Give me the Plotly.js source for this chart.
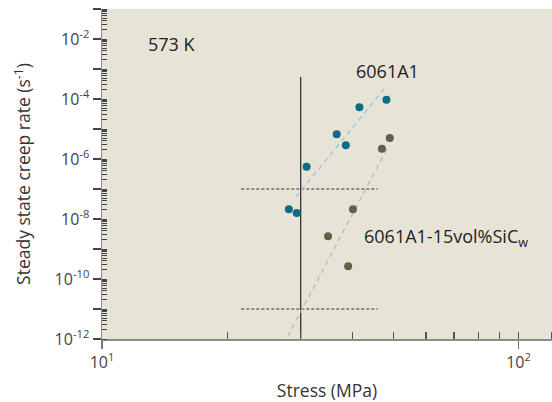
<!DOCTYPE html>
<html>
<head>
<meta charset="utf-8">
<script src="https://cdn.plot.ly/plotly-3.0.1.min.js"></script>
<style>html,body{margin:0;padding:0;background:#fff;}#chart{width:552px;height:402px;}</style>
</head>
<body>
<div id="chart"></div>
<script>
// 6061Al (unreinforced) data
const alStress = [28.1, 29.35, 31.0, 36.6, 38.5, 41.5, 48.2];
const alRate   = [2.1e-8, 1.58e-8, 5.5e-7, 6.66e-6, 2.86e-6, 5.3e-5, 9.5e-5];
// 6061Al-15vol%SiCw composite data
const compStress = [34.9, 39.0, 40.05, 47.0, 49.1];
const compRate   = [2.65e-9, 2.65e-10, 2.1e-8, 2.2e-6, 5.0e-6];
// dashed fit lines (end points)
const alFitStress = [29.2, 47.5];
const alFitRate   = [5.4e-8, 2.1e-4];
const compFitStress = [27.9, 48.5];
const compFitRate   = [1.21e-12, 2.38e-6];
// threshold guide lines
const vLineStress = [30, 30];
const vLineRate   = [5.4e-4, 1e-12];
const hGuideStress = [21.6, 45.9];
const hGuideUpper  = [1e-7, 1e-7];
const hGuideLower  = [1e-11, 1e-11];
// axis ticks
const xTickVals = [10, 100];
const xTickText = ['10<sup>1</sup>', '10<sup>2</sup>'];
const yExponents = [-12,-11,-10,-9,-8,-7,-6,-5,-4,-3,-2,-1];

const yTickVals = yExponents.map(e => Math.pow(10, e));
const yTickText = yExponents.map(e => (e % 2 === 0) ? '10<sup>' + e + '</sup>' : ' ');
const yMinor = [];
yExponents.forEach(e => {
  yMinor.push(Math.pow(10, e));
  if (e < -1) for (let k = 2; k <= 9; k++) yMinor.push(k * Math.pow(10, e));
});
const xMinor = [20,30,40,50,60,70,80,90,100,120];

const FONT = 'Open Sans, Noto Sans, sans-serif';

const traces = [
  {x: vLineStress, y: vLineRate, mode: 'lines', line: {color: '#222', width: 1.2}, hoverinfo: 'skip'},
  {x: hGuideStress, y: hGuideUpper, mode: 'lines', line: {color: '#333', width: 1, dash: '3px,2px'}, hoverinfo: 'skip'},
  {x: hGuideStress, y: hGuideLower, mode: 'lines', line: {color: '#333', width: 1, dash: '3px,2px'}, hoverinfo: 'skip'},
  {x: alFitStress, y: alFitRate, mode: 'lines', line: {color: '#9ccbdf', width: 1.6, dash: '5px,4px'}, hoverinfo: 'skip'},
  {x: compFitStress, y: compFitRate, mode: 'lines', line: {color: '#bdbcb0', width: 1.4, dash: '5px,4px'}, hoverinfo: 'skip'},
  {x: alStress, y: alRate, mode: 'markers', marker: {color: '#0b6c86', size: 8}, name: '6061Al'},
  {x: compStress, y: compRate, mode: 'markers', marker: {color: '#5f6144', size: 8}, name: '6061Al-15vol%SiCw'}
];

const layout = {
  width: 552, height: 402,
  margin: {l: 102, r: 0, t: 9, b: 63},
  paper_bgcolor: '#ffffff',
  plot_bgcolor: '#e7e4d7',
  showlegend: false,
  font: {family: FONT, color: '#333'},
  xaxis: {
    type: 'log', range: [1, 2.0805],
    showgrid: false, zeroline: false,
    showline: true, linecolor: '#8c8c8c', linewidth: 1.5,
    tickmode: 'array', tickvals: xTickVals, ticktext: xTickText,
    ticks: 'outside', ticklen: 8, tickcolor: '#777', tickwidth: 1.2,
    tickfont: {size: 16, color: '#444', family: FONT},
    minor: {tickmode: 'array', tickvals: xMinor, ticks: 'inside', ticklen: 7, tickcolor: '#555', tickwidth: 1.2, showgrid: false},
    title: {text: 'Stress (MPa)', font: {size: 17.5, color: '#333', family: FONT}, standoff: 16}
  },
  yaxis: {
    type: 'log', range: [-12, -1],
    showgrid: false, zeroline: false,
    showline: true, linecolor: '#8c8c8c', linewidth: 1.5,
    tickmode: 'array', tickvals: yTickVals, ticktext: yTickText,
    ticks: 'outside', ticklen: 8, tickcolor: '#444', tickwidth: 1.2,
    tickfont: {size: 16, color: '#444', family: FONT},
    minor: {tickmode: 'array', tickvals: yMinor, ticks: 'inside', ticklen: 5, tickcolor: '#444', tickwidth: 1, showgrid: false},
    title: {text: 'Steady state creep rate (s<sup>-1</sup>)', font: {size: 17.5, color: '#333', family: FONT}, standoff: 19}
  },
  annotations: [
    {xref: 'x', yref: 'y', x: 1.1673, y: -2.167, text: '573 K', showarrow: false, xanchor: 'center', yanchor: 'middle', font: {size: 18, color: '#222', family: FONT}},
    {xref: 'x', yref: 'y', x: 1.6867, y: -3.067, text: '6061A1', showarrow: false, xanchor: 'center', yanchor: 'middle', font: {size: 18, color: '#222', family: FONT}},
    {xref: 'x', yref: 'y', x: 1.624, y: -8.633, text: '6061A1-15vol%SiC<sub>w</sub>', showarrow: false, xanchor: 'left', yanchor: 'middle', font: {size: 18, color: '#222', family: FONT}}
  ]
};

Plotly.newPlot('chart', traces, layout, {staticPlot: true, displayModeBar: false});
</script>
</body>
</html>
